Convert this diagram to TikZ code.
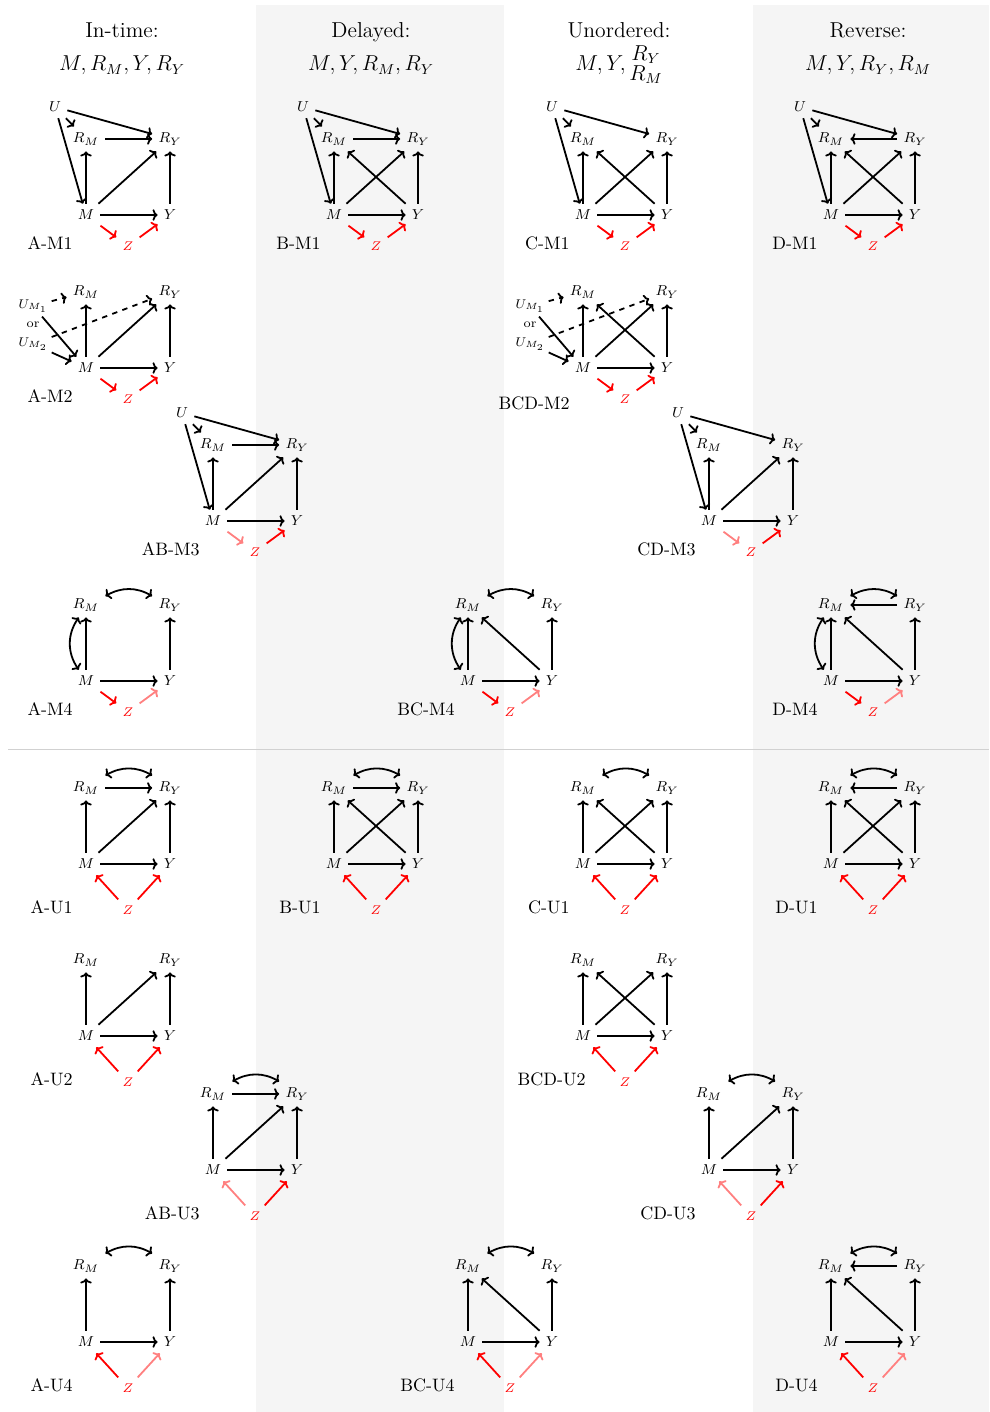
\documentclass[tikz,border=0pt]{standalone}
\usepackage{tikz}
\usetikzlibrary{positioning,arrows.meta}

\newcommand{\dagnodes}[5][]{%
  \node[var] (#2-M) at (#3) {$M$};
  \node[var, right=46.7pt of #2-M] (#2-Y) {$Y$};
  \node[var, above=42.25pt of #2-M] (#2-RM) {$R_M$};
  \node[var, above=42.25pt of #2-Y] (#2-RY) {$R_Y$};
  \node[zvar, below right=#4 and 23.3pt of #2-M] (#2-Z) {$Z$};
  \node[lbl] (#2-lbl) at ([xshift=-27.2pt, yshift=1.5pt, #1]#2-Z.center) {#5};
}
\newcommand{\dagU}[1]{%
  \node[var, above left=17.8pt and 17.2pt of #1-RM] (#1-U) {$U$};
}
\newcommand{\dagUM}[1]{%
  \node[uvar, above left=34.4pt and 29.4pt of #1-M] (#1-U1) {$U_{M_1}$};
  \node[uvar, above left=23.9pt and 29.4pt of #1-M] (#1-or) {or};
  \node[uvar, above left=13.3pt and 29.4pt of #1-M] (#1-U2) {$U_{M_2}$};
}

\begin{document}
\begin{tikzpicture}[
  x=0.5556pt, y=-0.5556pt, on grid,
  >={To[length=2.8pt,width=6.4pt]},
  var/.style={font=\footnotesize},
  zvar/.style={font=\scriptsize, text=red},
  uvar/.style={font=\scriptsize, inner sep=2pt},
  lbl/.style={font=\normalsize, anchor=east},
  colhead/.style={font=\large, anchor=base},
  arr/.style={->, line width=1pt},
  rarr/.style={arr, red},
  parr/.style={arr, red!50},
  darr/.style={arr, dashed},
  biarr/.style={<->, line width=1pt},
]
\useasboundingbox (0,0) rectangle (989,1412);
\fill[black!4] (256,5) rectangle (504,1412);
\fill[black!4] (753,5) rectangle (989,1412);
\draw[black!18, line width=0.5pt] (8,749) -- (989,749);

\node[colhead] (h-a) at (122,38) {In-time:};
\node[colhead] (f-a) at (122,71) {$M, R_M, Y, R_Y$};
\node[colhead] (h-b) at (371,38) {Delayed:};
\node[colhead] (f-b) at (371,71) {$M, Y, R_M, R_Y$};
\node[colhead] (h-c) at (619,38) {Unordered:};
\node[colhead] (f-c) at (619,71) {$M, Y, \begin{array}{@{}c@{}}R_Y\\[-3pt]R_M\end{array}$};
\node[colhead] (h-d) at (868,38) {Reverse:};
\node[colhead] (f-d) at (868,71) {$M, Y, R_Y, R_M$};

\dagnodes{am1}{86,215}{17.2pt}{A-M1}
\dagU{am1}
\draw[arr] (am1-U) edge (am1-RM) edge (am1-RY) edge (am1-M);
\draw[arr] (am1-M) edge (am1-RM) edge (am1-RY) edge (am1-Y);
\draw[arr] (am1-RM) edge (am1-RY) (am1-Y) edge (am1-RY);
\draw[rarr] (am1-M) edge (am1-Z) (am1-Z) edge (am1-Y);

\dagnodes{bm1}{334,215}{17.2pt}{B-M1}
\dagU{bm1}
\draw[arr] (bm1-U) edge (bm1-RM) edge (bm1-RY) edge (bm1-M);
\draw[arr] (bm1-M) edge (bm1-RM) edge (bm1-RY) edge (bm1-Y);
\draw[arr] (bm1-RM) edge (bm1-RY) (bm1-Y) edge (bm1-RY) edge (bm1-RM);
\draw[rarr] (bm1-M) edge (bm1-Z) (bm1-Z) edge (bm1-Y);

\dagnodes{cm1}{583,215}{17.2pt}{C-M1}
\dagU{cm1}
\draw[arr] (cm1-U) edge (cm1-RM) edge (cm1-RY) edge (cm1-M);
\draw[arr] (cm1-M) edge (cm1-RM) edge (cm1-RY) edge (cm1-Y);
\draw[arr] (cm1-Y) edge (cm1-RY) edge (cm1-RM);
\draw[rarr] (cm1-M) edge (cm1-Z) (cm1-Z) edge (cm1-Y);

\dagnodes{dm1}{831,215}{17.2pt}{D-M1}
\dagU{dm1}
\draw[arr] (dm1-U) edge (dm1-RM) edge (dm1-RY) edge (dm1-M);
\draw[arr] (dm1-M) edge (dm1-RM) edge (dm1-RY) edge (dm1-Y);
\draw[arr] (dm1-RY) edge (dm1-RM) (dm1-Y) edge (dm1-RY) edge (dm1-RM);
\draw[rarr] (dm1-M) edge (dm1-Z) (dm1-Z) edge (dm1-Y);

\dagnodes{am2}{86,368}{17.2pt}{A-M2}
\dagUM{am2}
\draw[darr] (am2-U1) edge (am2-RM) (am2-U2) edge (am2-RY);
\draw[arr] (am2-U1) edge (am2-M) (am2-U2) edge (am2-M);
\draw[arr] (am2-M) edge (am2-RM) edge (am2-RY) edge (am2-Y);
\draw[arr] (am2-Y) edge (am2-RY);
\draw[rarr] (am2-M) edge (am2-Z) (am2-Z) edge (am2-Y);

\dagnodes[yshift=-4pt]{bcdm2}{583,368}{17.2pt}{BCD-M2}
\dagUM{bcdm2}
\draw[darr] (bcdm2-U1) edge (bcdm2-RM) (bcdm2-U2) edge (bcdm2-RY);
\draw[arr] (bcdm2-U1) edge (bcdm2-M) (bcdm2-U2) edge (bcdm2-M);
\draw[arr] (bcdm2-M) edge (bcdm2-RM) edge (bcdm2-RY) edge (bcdm2-Y);
\draw[arr] (bcdm2-Y) edge (bcdm2-RY) edge (bcdm2-RM);
\draw[rarr] (bcdm2-M) edge (bcdm2-Z) (bcdm2-Z) edge (bcdm2-Y);

\dagnodes{abm3}{213,521}{17.2pt}{AB-M3}
\dagU{abm3}
\draw[arr] (abm3-U) edge (abm3-RM) edge (abm3-RY) edge (abm3-M);
\draw[arr] (abm3-M) edge (abm3-RM) edge (abm3-RY) edge (abm3-Y);
\draw[arr] (abm3-RM) edge (abm3-RY) (abm3-Y) edge (abm3-RY);
\draw[parr] (abm3-M) -- (abm3-Z);
\draw[rarr] (abm3-Z) -- (abm3-Y);

\dagnodes{cdm3}{709,521}{17.2pt}{CD-M3}
\dagU{cdm3}
\draw[arr] (cdm3-U) edge (cdm3-RM) edge (cdm3-RY) edge (cdm3-M);
\draw[arr] (cdm3-M) edge (cdm3-RM) edge (cdm3-RY) edge (cdm3-Y);
\draw[arr] (cdm3-Y) edge (cdm3-RY);
\draw[parr] (cdm3-M) -- (cdm3-Z);
\draw[rarr] (cdm3-Z) -- (cdm3-Y);

\dagnodes{am4}{86,681}{17.2pt}{A-M4}
\draw[biarr] ([yshift=-2pt]am4-RM.north east) to[bend left=30] ([yshift=-2pt]am4-RY.north west);
\draw[biarr] ([xshift=-4pt]am4-M.north) to[bend left=35] ([xshift=-4pt]am4-RM.south);
\draw[arr] (am4-M) edge (am4-RM) edge (am4-Y) (am4-Y) edge (am4-RY);
\draw[rarr] (am4-M) -- (am4-Z);
\draw[parr] (am4-Z) -- (am4-Y);

\dagnodes{bcm4}{468,681}{17.2pt}{BC-M4}
\draw[biarr] ([yshift=-2pt]bcm4-RM.north east) to[bend left=30] ([yshift=-2pt]bcm4-RY.north west);
\draw[biarr] ([xshift=-4pt]bcm4-M.north) to[bend left=35] ([xshift=-4pt]bcm4-RM.south);
\draw[arr] (bcm4-M) edge (bcm4-RM) edge (bcm4-Y) (bcm4-Y) edge (bcm4-RY) edge (bcm4-RM);
\draw[rarr] (bcm4-M) -- (bcm4-Z);
\draw[parr] (bcm4-Z) -- (bcm4-Y);

\dagnodes{dm4}{831,681}{17.2pt}{D-M4}
\draw[biarr] ([yshift=-2pt]dm4-RM.north east) to[bend left=30] ([yshift=-2pt]dm4-RY.north west);
\draw[biarr] ([xshift=-4pt]dm4-M.north) to[bend left=35] ([xshift=-4pt]dm4-RM.south);
\draw[arr] (dm4-M) edge (dm4-RM) edge (dm4-Y) (dm4-Y) edge (dm4-RY) edge (dm4-RM);
\draw[arr] (dm4-RY) edge (dm4-RM);
\draw[rarr] (dm4-M) -- (dm4-Z);
\draw[parr] (dm4-Z) -- (dm4-Y);

\dagnodes{au1}{86,864}{25.6pt}{A-U1}
\draw[biarr] (au1-RM.north east) to[bend left=30] (au1-RY.north west);
\draw[arr] (au1-RM) edge (au1-RY);
\draw[arr] (au1-M) edge (au1-RM) edge (au1-RY) edge (au1-Y) (au1-Y) edge (au1-RY);
\draw[rarr] (au1-Z) edge (au1-M) edge (au1-Y);

\dagnodes{bu1}{334,864}{25.6pt}{B-U1}
\draw[biarr] (bu1-RM.north east) to[bend left=30] (bu1-RY.north west);
\draw[arr] (bu1-RM) edge (bu1-RY);
\draw[arr] (bu1-M) edge (bu1-RM) edge (bu1-RY) edge (bu1-Y) (bu1-Y) edge (bu1-RY) edge (bu1-RM);
\draw[rarr] (bu1-Z) edge (bu1-M) edge (bu1-Y);

\dagnodes{cu1}{583,864}{25.6pt}{C-U1}
\draw[biarr] (cu1-RM.north east) to[bend left=30] (cu1-RY.north west);
\draw[arr] (cu1-M) edge (cu1-RM) edge (cu1-RY) edge (cu1-Y) (cu1-Y) edge (cu1-RY) edge (cu1-RM);
\draw[rarr] (cu1-Z) edge (cu1-M) edge (cu1-Y);

\dagnodes{du1}{831,864}{25.6pt}{D-U1}
\draw[biarr] (du1-RM.north east) to[bend left=30] (du1-RY.north west);
\draw[arr] (du1-RY) edge (du1-RM);
\draw[arr] (du1-M) edge (du1-RM) edge (du1-RY) edge (du1-Y) (du1-Y) edge (du1-RY) edge (du1-RM);
\draw[rarr] (du1-Z) edge (du1-M) edge (du1-Y);

\dagnodes{au2}{86,1036}{25.6pt}{A-U2}
\draw[arr] (au2-M) edge (au2-RM) edge (au2-RY) edge (au2-Y) (au2-Y) edge (au2-RY);
\draw[rarr] (au2-Z) edge (au2-M) edge (au2-Y);

\dagnodes[xshift=8.9pt]{bcdu2}{583,1036}{25.6pt}{BCD-U2}
\draw[arr] (bcdu2-M) edge (bcdu2-RM) edge (bcdu2-RY) edge (bcdu2-Y) (bcdu2-Y) edge (bcdu2-RY) edge (bcdu2-RM);
\draw[rarr] (bcdu2-Z) edge (bcdu2-M) edge (bcdu2-Y);

\dagnodes{abu3}{213,1170}{25.6pt}{AB-U3}
\draw[biarr] (abu3-RM.north east) to[bend left=30] (abu3-RY.north west);
\draw[arr] (abu3-RM) edge (abu3-RY);
\draw[arr] (abu3-M) edge (abu3-RM) edge (abu3-RY) edge (abu3-Y) (abu3-Y) edge (abu3-RY);
\draw[parr] (abu3-Z) -- (abu3-M);
\draw[rarr] (abu3-Z) -- (abu3-Y);

\dagnodes{cdu3}{709,1170}{25.6pt}{CD-U3}
\draw[biarr] (cdu3-RM.north east) to[bend left=30] (cdu3-RY.north west);
\draw[arr] (cdu3-M) edge (cdu3-RM) edge (cdu3-RY) edge (cdu3-Y) (cdu3-Y) edge (cdu3-RY);
\draw[parr] (cdu3-Z) -- (cdu3-M);
\draw[rarr] (cdu3-Z) -- (cdu3-Y);

\dagnodes{au4}{86,1342}{25.6pt}{A-U4}
\draw[biarr] (au4-RM.north east) to[bend left=30] (au4-RY.north west);
\draw[arr] (au4-M) edge (au4-RM) edge (au4-Y) (au4-Y) edge (au4-RY);
\draw[rarr] (au4-Z) -- (au4-M);
\draw[parr] (au4-Z) -- (au4-Y);

\dagnodes{bcu4}{468,1342}{25.6pt}{BC-U4}
\draw[biarr] (bcu4-RM.north east) to[bend left=30] (bcu4-RY.north west);
\draw[arr] (bcu4-M) edge (bcu4-RM) edge (bcu4-Y) (bcu4-Y) edge (bcu4-RY) edge (bcu4-RM);
\draw[rarr] (bcu4-Z) -- (bcu4-M);
\draw[parr] (bcu4-Z) -- (bcu4-Y);

\dagnodes{du4}{831,1342}{25.6pt}{D-U4}
\draw[biarr] (du4-RM.north east) to[bend left=30] (du4-RY.north west);
\draw[arr] (du4-RY) edge (du4-RM);
\draw[arr] (du4-M) edge (du4-RM) edge (du4-Y) (du4-Y) edge (du4-RY) edge (du4-RM);
\draw[rarr] (du4-Z) -- (du4-M);
\draw[parr] (du4-Z) -- (du4-Y);
\end{tikzpicture}
\end{document}
